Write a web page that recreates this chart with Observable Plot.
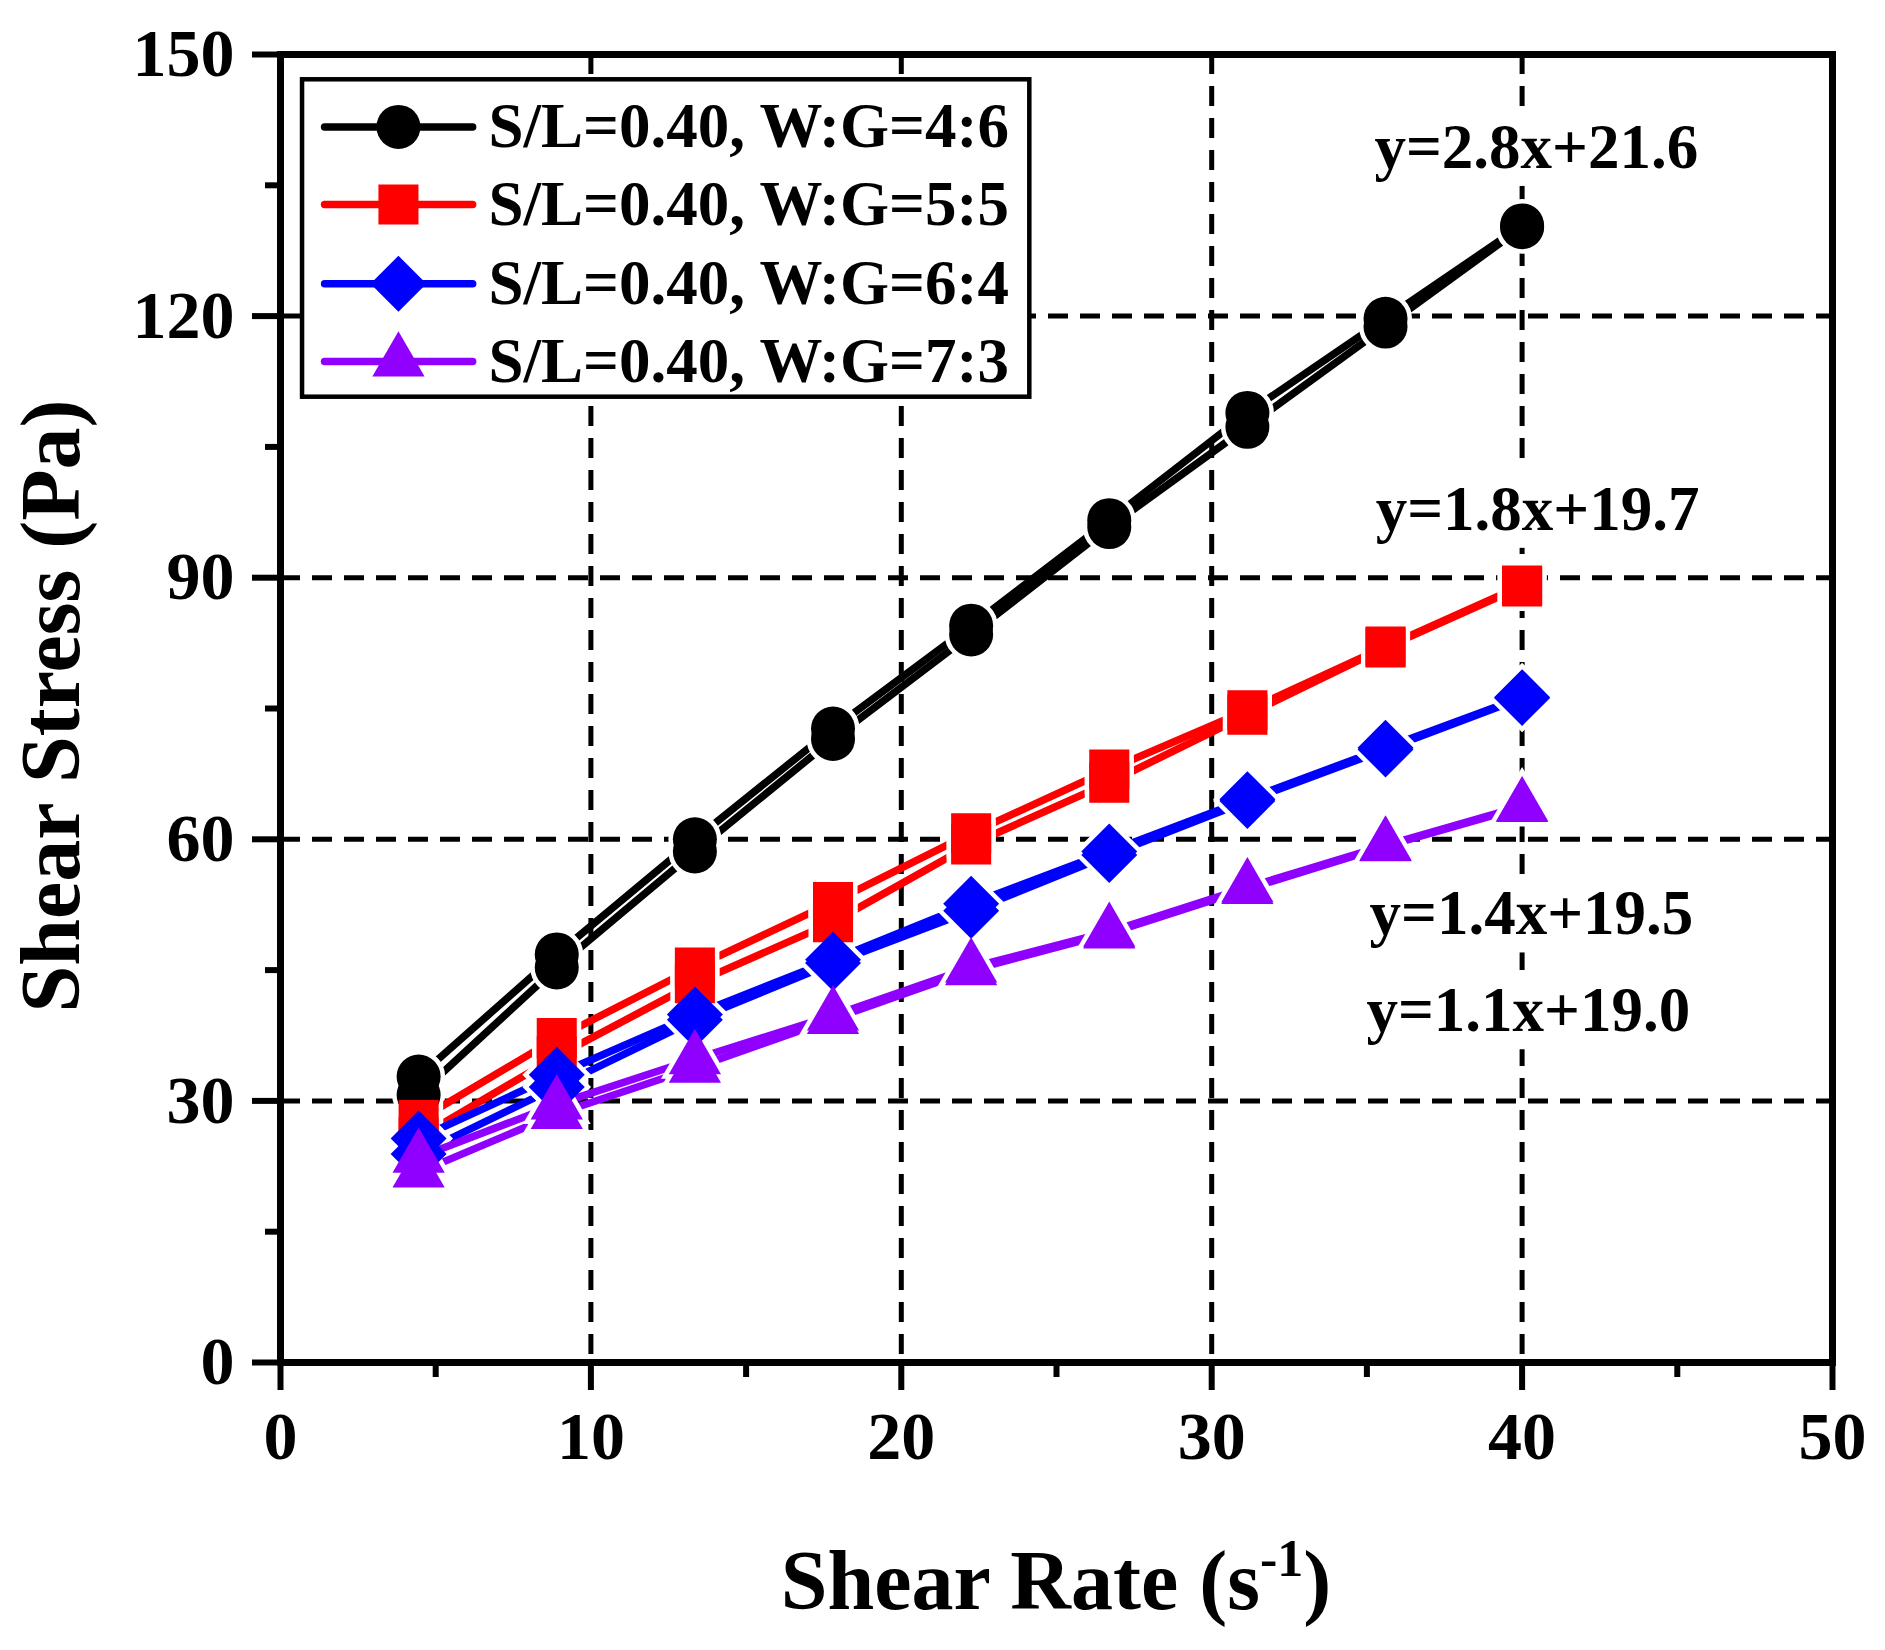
<!DOCTYPE html>
<html>
<head>
<meta charset="utf-8">
<script src="https://cdn.jsdelivr.net/npm/d3@7"></script>
<script src="https://cdn.jsdelivr.net/npm/@observablehq/plot@0.6"></script>
<style>
  body { margin: 0; background: #ffffff; }
  #chart svg { display: block; }
</style>
</head>
<body>
<div id="chart"></div>
<script>
// ---------- data ----------
const shearRate = [4.45, 8.9, 13.35, 17.8, 22.25, 26.7, 31.15, 35.6, 40.0];

const seriesLabels = [
  "S/L=0.40, W:G=4:6",
  "S/L=0.40, W:G=5:5",
  "S/L=0.40, W:G=6:4",
  "S/L=0.40, W:G=7:3"
];

// two branches per mixture (ramp up / ramp down)
const stressUp46   = [32.8, 46.8, 60.0, 72.7, 84.5, 96.6, 108.9, 119.7, 130.4];
const stressDown46 = [30.7, 45.3, 58.6, 71.5, 83.5, 95.8, 107.3, 118.8, 130.2];
const stressUp55   = [27.8, 37.2, 45.3, 52.8, 60.7, 68.0, 74.8, 82.1, 89.1];
const stressDown55 = [25.8, 35.1, 43.5, 50.5, 59.4, 66.5, 74.3, 82.0, 89.0];
const stressUp64   = [25.7, 33.0, 39.9, 46.2, 52.6, 58.6, 64.6, 70.5, 76.3];
const stressDown64 = [23.9, 31.6, 39.3, 45.8, 51.8, 58.2, 64.4, 70.3, 76.2];
const stressUp73   = [23.5, 29.6, 34.8, 39.8, 45.3, 49.4, 54.5, 59.3, 63.8];
const stressDown73 = [21.8, 28.5, 33.8, 39.4, 45.0, 49.2, 54.3, 59.2, 63.7];

const equations = ["y=2.8x+21.6", "y=1.8x+19.7", "y=1.4x+19.5", "y=1.1x+19.0"];

const xTicks = [0, 10, 20, 30, 40, 50];
const xMinorTicks = [5, 15, 25, 35, 45];
const yTicks = [0, 30, 60, 90, 120, 150];
const yMinorTicks = [15, 45, 75, 105, 135];
const xGrid = [10, 20, 30, 40];
const yGrid = [30, 60, 90, 120];

// ---------- styles / layout ----------
const seriesColors = ["#000000", "#ff0000", "#0000ff", "#9000ff"];
const seriesSymbols = ["circle", "square", "diamond2", "triangle"];
const seriesR = [22, 22.6, 25.2, 19.4];
const eqPos = [[40.46, 139.3], [40.5, 97.8], [40.3, 51.4], [40.2, 40.3]];
const legendBox = {x1: 0.71, x2: 24.14, y1: 110.7, y2: 147.1};
const legendLine = {x1: 1.42, x2: 6.19, mark: 3.8, text: 6.7};
const legendRowY = [141.7, 132.8, 123.7, 114.8];

const FONT = "'Liberation Serif', 'Times New Roman', Times, serif";

const branches = [
  [stressUp46, stressDown46],
  [stressUp55, stressDown55],
  [stressUp64, stressDown64],
  [stressUp73, stressDown73]
];

const rows = [];
branches.forEach((pair, s) => {
  pair.forEach((vals, b) => {
    vals.forEach((v, k) => rows.push({x: shearRate[k], y: v, s, b}));
  });
});

const lineMarks = [];
const markerMarks = [];
for (let s = 0; s < 4; s++) {
  const g = rows.filter(d => d.s === s);
  lineMarks.push(
    Plot.line(g, {x: "x", y: "y", z: "b", stroke: seriesColors[s], strokeWidth: 7.5, strokeLinecap: "round", strokeLinejoin: "round"}),
    Plot.dot(g, {x: "x", y: "y", symbol: seriesSymbols[s], r: seriesR[s], fill: "white", stroke: "white", strokeWidth: 9})
  );
  markerMarks.push(
    Plot.dot(g, {x: "x", y: "y", symbol: seriesSymbols[s], r: seriesR[s], fill: seriesColors[s], stroke: "none"})
  );
}

const legendRows = seriesLabels.map((label, i) => ({label, i, y: legendRowY[i]}));
const legendMarks = [
  Plot.rect([legendBox], {x1: "x1", x2: "x2", y1: "y1", y2: "y2", fill: "white", stroke: "black", strokeWidth: 4.5})
];
legendRows.forEach(d => {
  legendMarks.push(
    Plot.link([d], {x1: () => legendLine.x1, x2: () => legendLine.x2, y1: "y", y2: "y", stroke: seriesColors[d.i], strokeWidth: 7.5, strokeLinecap: "round"}),
    Plot.dot([d], {x: () => legendLine.mark, y: "y", symbol: seriesSymbols[d.i], r: seriesR[d.i], fill: seriesColors[d.i], stroke: "none"})
  );
});
legendMarks.push(
  Plot.text(legendRows, {x: () => legendLine.text, y: "y", text: "label", textAnchor: "start", fontSize: 63, fontWeight: "bold", fill: "black", fontFamily: FONT})
);

const eqRows = equations.map((t, i) => ({t, x: eqPos[i][0], y: eqPos[i][1]}));

const chart = Plot.plot({
  width: 1885,
  height: 1650,
  marginLeft: 280,
  marginRight: 53,
  marginTop: 54,
  marginBottom: 288,
  style: {fontFamily: FONT, fontWeight: "bold", background: "white", color: "black"},
  x: {domain: [0, 50]},
  y: {domain: [0, 150]},
  marks: [
    Plot.gridX(xGrid, {stroke: "black", strokeOpacity: 1, strokeWidth: 5, strokeDasharray: "20,12"}),
    Plot.gridY(yGrid, {stroke: "black", strokeOpacity: 1, strokeWidth: 5, strokeDasharray: "20,12"}),
    ...lineMarks,
    ...markerMarks,
    Plot.axisX(xTicks, {tickSize: 28, tickPadding: 20, strokeWidth: 6, fontSize: 68, fontWeight: "bold", label: null}),
    Plot.axisX(xMinorTicks, {tickSize: 15, strokeWidth: 6, tickFormat: () => "", label: null}),
    Plot.axisY(yTicks, {tickSize: 28, tickPadding: 18, strokeWidth: 6, fontSize: 68, fontWeight: "bold", label: null}),
    Plot.axisY(yMinorTicks, {tickSize: 15, strokeWidth: 6, tickFormat: () => "", label: null}),
    Plot.frame({stroke: "black", strokeWidth: 7}),
    ...legendMarks,
    Plot.text(eqRows, {x: "x", y: "y", text: "t", textAnchor: "middle", fontSize: 63, fontWeight: "bold", fill: "black", fontFamily: FONT})
  ]
});

const svg = d3.select(chart);
// x axis label with superscript
const xl = svg.append("text")
  .attr("x", 1056).attr("y", 1609)
  .attr("text-anchor", "middle")
  .attr("font-family", FONT).attr("font-weight", "bold").attr("font-size", 84)
  .attr("fill", "black");
xl.append("tspan").text("Shear Rate (s");
xl.append("tspan").attr("font-size", 52).attr("dy", -33).text("-1");
xl.append("tspan").attr("dy", 33).text(")");

svg.append("text")
  .attr("transform", "translate(79,706) rotate(-90)")
  .attr("text-anchor", "middle")
  .attr("font-family", FONT).attr("font-weight", "bold").attr("font-size", 84)
  .attr("fill", "black")
  .text("Shear Stress (Pa)");

document.getElementById("chart").appendChild(chart);

// white background boxes behind the equation annotations (they interrupt the grid)
svg.selectAll("text").filter(function() { return equations.includes(this.textContent); })
  .each(function() {
    const b = this.getBBox();
    const t = this.getAttribute("transform");
    const rect = document.createElementNS("http://www.w3.org/2000/svg", "rect");
    rect.setAttribute("x", b.x - 6);
    rect.setAttribute("y", b.y - 4);
    rect.setAttribute("width", b.width + 12);
    rect.setAttribute("height", b.height + 8);
    rect.setAttribute("fill", "white");
    if (t) rect.setAttribute("transform", t);
    this.parentNode.insertBefore(rect, this);
  });
</script>
</body>
</html>
